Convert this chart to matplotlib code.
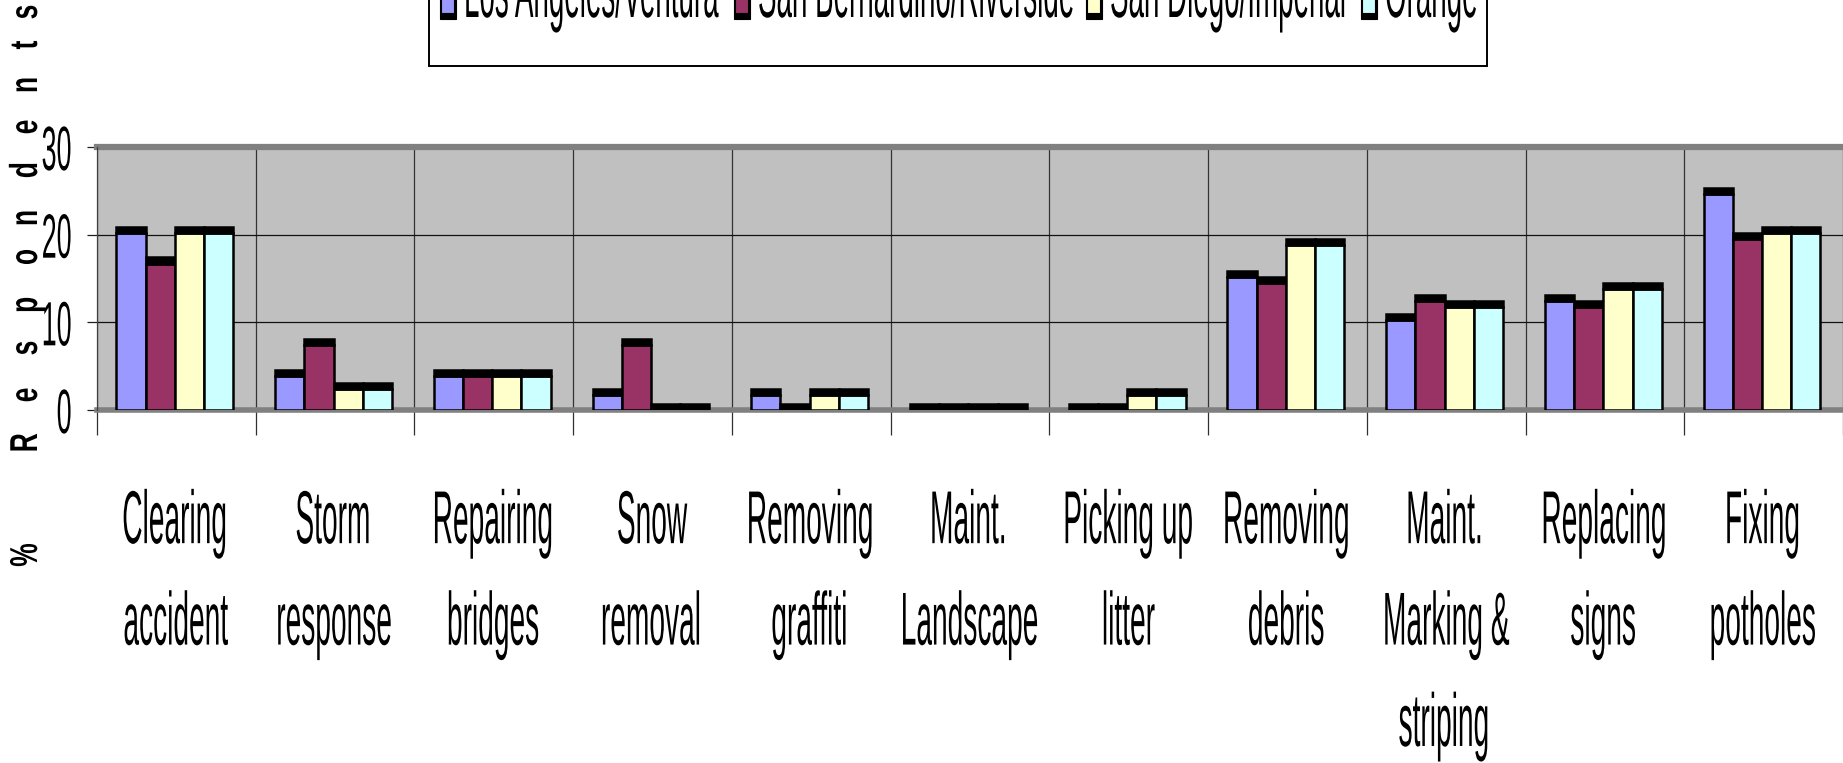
import matplotlib
matplotlib.use("Agg")
import matplotlib.pyplot as plt
import numpy as np
from matplotlib.patches import Rectangle
from matplotlib.patheffects import AbstractPathEffect
from matplotlib.transforms import Affine2D

# ---------------- data ----------------
categories = ["Clearing\naccident", "Storm\nresponse", "Repairing\nbridges", "Snow\nremoval",
              "Removing\ngraffiti", "Maint.\nLandscape", "Picking up\nlitter", "Removing\ndebris",
              "Maint.\nMarking &\nstriping", "Replacing\nsigns", "Fixing\npotholes"]
series_names = ["Los Angeles/Ventura", "San Bernardino/Riverside", "San Diego/Imperial", "Orange"]
la_ventura = [20.2, 3.9, 3.9, 1.7, 1.7, 0.0, 0.0, 15.2, 10.3, 12.4, 24.6]
sb_riverside = [16.7, 7.4, 3.9, 7.4, 0.0, 0.0, 0.0, 14.5, 12.4, 11.7, 19.5]
sd_imperial = [20.2, 2.4, 3.9, 0.0, 1.7, 0.0, 1.7, 18.8, 11.7, 13.8, 20.2]
orange = [20.2, 2.4, 3.9, 0.0, 1.7, 0.0, 1.7, 18.8, 11.7, 13.8, 20.2]
series_colors = ["#9999FF", "#993366", "#FFFFCC", "#CCFFFF"]
y_ticks = [0, 10, 20, 30]
y_label = "% Respondents"

W, H = 1843, 763


class Squash(AbstractPathEffect):
    """Draw text glyphs condensed along the text direction (narrow font look)."""
    def __init__(self, sx, anchor="center"):
        super().__init__()
        self.sx = sx
        self.anchor = anchor

    def draw_path(self, renderer, gc, tpath, affine, rgbFace=None):
        ext = tpath.get_extents()
        if self.anchor == "left":
            a = 0.0
        elif self.anchor == "right":
            a = ext.x1
        else:
            a = 0.5 * (ext.x0 + ext.x1)
        t = Affine2D().translate(-a, 0).scale(self.sx, 1.0).translate(a, 0) + affine
        renderer.draw_path(gc, tpath, t, rgbFace)


plt.rcParams["font.family"] = ["Liberation Sans", "DejaVu Sans"]

fig = plt.figure(figsize=(W / 100, H / 100), dpi=100)
ax = fig.add_axes([97 / W, 1 - 410 / H, 1 - 97 / W, 263 / H])
ax.set_facecolor("#C0C0C0")

n_cat = len(categories)
x = np.arange(n_cat) + 0.49
bw = 0.184
cap = 0.7
data = [la_ventura, sb_riverside, sd_imperial, orange]
for i, (vals, col) in enumerate(zip(data, series_colors)):
    xs = x + (i - 1.5) * bw
    ax.bar(xs, vals, width=bw, color=col, edgecolor="black", linewidth=1.8, zorder=3)
    ax.bar(xs, [cap] * n_cat, bottom=vals, width=bw, color="black",
           edgecolor="black", linewidth=1.8, zorder=3)

ax.set_xlim(0, n_cat * (W - 97) / (1845 - 97))
ax.set_ylim(0, 30)

# grid / ticks
ax.set_xticks(np.arange(n_cat + 1))
ax.set_xticklabels([])
ax.set_xticks(x, minor=True)
ax.set_xticklabels(categories, minor=True)
ax.tick_params(axis="x", which="major", length=18, width=0.9, color="#303030", direction="out")
ax.tick_params(axis="x", which="minor", length=0, pad=57)
ax.set_yticks(y_ticks)
ax.tick_params(axis="y", length=7.2, width=0.9, color="#202020", direction="out", pad=10)
ax.grid(True, axis="y", which="major", color="#111111", linewidth=0.9, zorder=1)
ax.grid(True, axis="x", which="major", color="#333333", linewidth=0.9, zorder=1)
ax.set_axisbelow(True)

for s in ["top", "right", "bottom"]:
    ax.spines[s].set_visible(False)
ax.spines["left"].set_color("#404040")
ax.spines["left"].set_linewidth(0.9)

# 3D wall/floor edges
ax.axhline(30, color="#808080", linewidth=4.5, clip_on=False, zorder=2)
ax.axhline(0, color="#808080", linewidth=4.0, clip_on=False, zorder=2)

for lab in ax.get_xticklabels(minor=True):
    lab.set_fontsize(54)
    lab.set_linespacing(1.6)
    lab.set_multialignment("center")
    lab.set_path_effects([Squash(0.375, "center")])
for lab in ax.get_yticklabels():
    lab.set_fontsize(45)
    lab.set_path_effects([Squash(0.43, "right")])

# y axis label (rotated, letter-by-letter)
ylab_pos = [555, None, 443, 395, 348, 305, 257, 218, 170, 127, 85, 45, 12]
for ch, yp in zip(y_label, ylab_pos):
    if yp is None or ch == " ":
        continue
    fig.text(37 / W, 1 - yp / H, ch, rotation=90, rotation_mode="anchor",
             ha="center", va="baseline", fontsize=28, fontweight="bold",
             path_effects=[Squash(0.68, "center")])

# legend (top is cropped)
fig.add_artist(Rectangle((429 / W, 1 - 66 / H), (1487 - 429) / W, 100 / H,
                         transform=fig.transFigure, facecolor="white",
                         edgecolor="black", linewidth=1.4, zorder=0))
leg_text_x = [464, 758, 1110, 1385]
for name, col, tx in zip(series_names, series_colors, leg_text_x):
    mx = tx - 24
    fig.add_artist(Rectangle((mx / W, 1 - 19 / H), 16 / W, 30 / H,
                             transform=fig.transFigure, facecolor="black",
                             edgecolor="black", linewidth=0.8, zorder=2))
    fig.add_artist(Rectangle(((mx + 1) / W, 1 - 13 / H), 13 / W, 30 / H,
                             transform=fig.transFigure, facecolor=col,
                             edgecolor="black", linewidth=0.8, zorder=3))
    fig.text(tx / W, 1 - 17 / H, name, ha="left", va="baseline", fontsize=54,
             path_effects=[Squash(0.37, "left")], zorder=4)

fig.savefig("out.png", dpi=100)
